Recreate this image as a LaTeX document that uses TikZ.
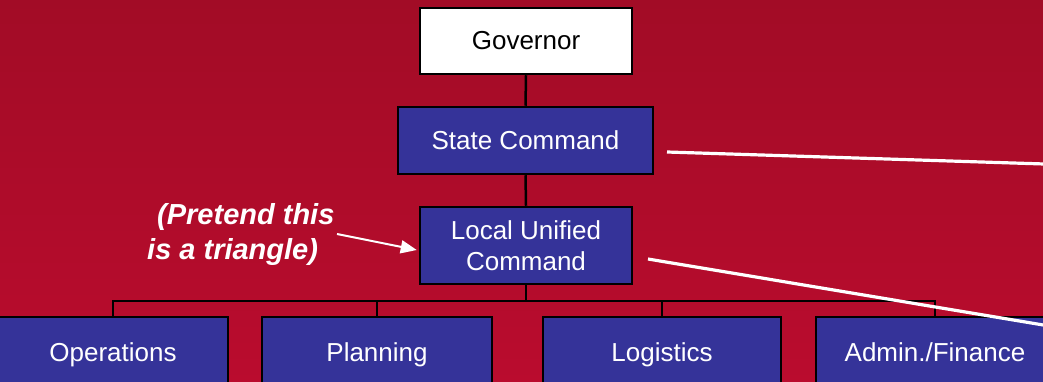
\documentclass[tikz,border=0pt]{standalone}
\usepackage{fontspec}
\setmainfont{Liberation Sans}
\usetikzlibrary{arrows.meta}
\definecolor{bgtop}{HTML}{A20C26}
\definecolor{bgbot}{HTML}{BA0C2E}
\definecolor{boxblue}{HTML}{353399}
\begin{document}
\begin{tikzpicture}[x=1pt,y=-1pt,
  box/.style={draw=black,line width=2.5pt,fill=boxblue,text=white,
    font=\fontsize{26}{31}\selectfont,align=center,inner sep=0pt},
  wbox/.style={box,fill=white,text=black},
  lowbox/.style={box,minimum height=70pt,text height=26pt,text depth=7pt},
  conn/.style={draw=black,line width=2.5pt},
  wline/.style={draw=white,line width=3.2pt},
  note/.style={text=white,font=\fontsize{29}{35}\selectfont\bfseries\itshape,
    inner sep=0pt,anchor=base west}]
\useasboundingbox (0,0) rectangle (1043,382);
\clip (0,0) rectangle (1043,382);
\shade[top color=bgtop,bottom color=bgbot] (0,0) rectangle (1043,382);

% nodes
\node[wbox,minimum width=212pt,minimum height=66pt] (gov) at (526,41) {Governor};
\node[box,minimum width=255pt,minimum height=67pt] (state) at (525.5,140.5) {State Command};
\node[box,minimum width=212pt,minimum height=77pt] (luc) at (526,245.5) {Local Unified\\Command};
\node[lowbox,minimum width=230pt] (ops) at (113,352) {Operations};
\node[lowbox,minimum width=230pt] (plan) at (377,352) {Planning};
\node[lowbox,minimum width=238pt] (log) at (662,352) {Logistics};
\node[lowbox,minimum width=238pt] (adm) at (935,352) {Admin./Finance};

% connectors
\coordinate (bus) at (526,301);
\draw[conn] (gov.south) -- (state.north);
\draw[conn] (state.south) -- (luc.north);
\draw[conn] (luc.south) -- (bus);
\draw[conn] (ops.north) -- (ops.north |- bus) -- (adm.north |- bus) -- (adm.north);
\draw[conn] (plan.north) -- (plan.north |- bus);
\draw[conn] (log.north) -- (log.north |- bus);

% note
\node[note] (note1) at (157,224) {(Pretend this};
\node[note] (note2) at (147,259) {is a triangle)};
\coordinate (arrstart) at (337,234);
\draw[draw=white,line width=2pt,-{Triangle[length=16pt,width=13pt]}] (arrstart) -- ([xshift=-2pt,yshift=-4.5pt]luc.west);

% white lines
\coordinate (s1) at (667,152);
\coordinate (e1) at (1060,164.5);
\coordinate (s2) at (648,259);
\coordinate (e2) at (1060,327.8);
\draw[wline] (s1) -- (e1);
\draw[wline] (s2) -- (e2);
\end{tikzpicture}
\end{document}
